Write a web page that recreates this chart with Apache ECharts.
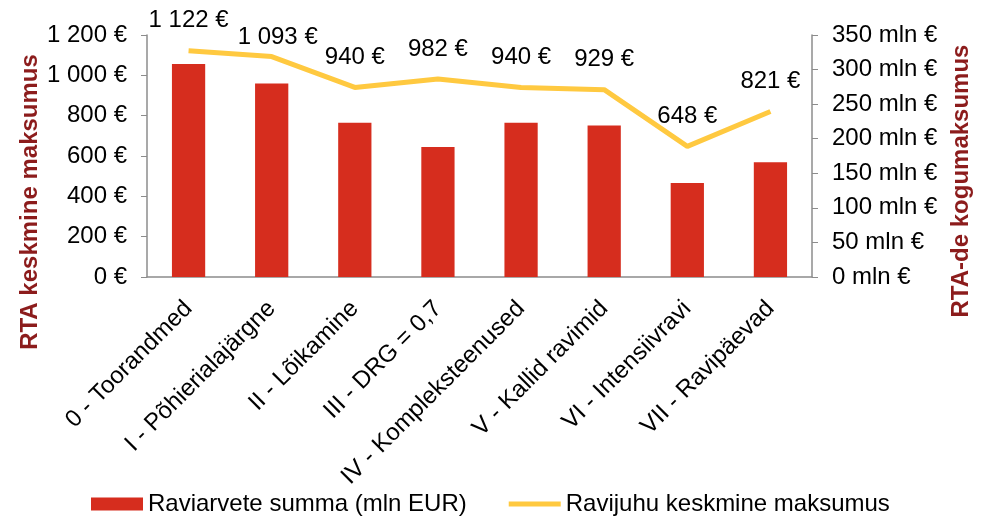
<!DOCTYPE html>
<html>
<head>
<meta charset="utf-8">
<script src="https://cdn.jsdelivr.net/npm/echarts@6/dist/echarts.min.js"></script>
<style>
  html, body { margin: 0; padding: 0; background: #fff; }
  #chart { width: 986px; height: 516px; }
</style>
</head>
<body>
<div id="chart"></div>
<script>
var categories = ['0 - Toorandmed', 'I - Põhierialajärgne', 'II - Lõikamine', 'III - DRG = 0,7',
    'IV - Kompleksteenused', 'V - Kallid ravimid', 'VI - Intensiivravi', 'VII - Ravipäevad'];
// bars, right axis (mln EUR)
var totalCost = [308, 280, 223, 188, 223, 219, 136, 166];
// line, left axis (EUR)
var avgCost = [1122, 1093, 940, 982, 940, 929, 648, 821];

var FONT = 'Liberation Sans, Arial, sans-serif';
var axisGray = '#8c8c8c';
var titleRed = '#8c1c1c';

function spaced(v) {
    return String(v).replace(/\B(?=(\d{3})+(?!\d))/g, ' ');
}

// second label sits a bit lower in the original
var lineData = avgCost.map(function (v, i) {
    if (i === 1) return { value: v, label: { offset: [6, 11] } };
    return v;
});

var chart = echarts.init(document.getElementById('chart'));

var opt = {
    animation: false,
    textStyle: { fontFamily: FONT },
    grid: {
        left: 147,
        right: 174,
        top: 35,
        bottom: 239
    },
    legend: {
        bottom: -5,
        left: 86,
        itemWidth: 52,
        itemHeight: 13,
        itemGap: 42,
        textStyle: { fontSize: 24, color: '#000', fontFamily: FONT },
        data: [
            { name: 'Raviarvete summa (mln EUR)', icon: 'rect' },
            { name: 'Ravijuhu keskmine maksumus', icon: 'path://M0,0 H52 V5 H0 Z' }
        ]
    },
    xAxis: {
        type: 'category',
        data: categories,
        axisLine: { lineStyle: { color: axisGray, width: 1.5 } },
        axisTick: { length: 6, lineStyle: { color: axisGray } },
        axisLabel: {
            rotate: 45,
            interval: 0,
            fontSize: 24,
            color: '#000',
            margin: 28
        }
    },
    yAxis: [
        {
            type: 'value',
            min: 0,
            max: 1200,
            interval: 200,
            position: 'left',
            splitLine: { show: false },
            axisLine: { show: true, lineStyle: { color: axisGray, width: 1.5 } },
            axisTick: { show: true, length: 6, lineStyle: { color: axisGray } },
            axisLabel: {
                fontSize: 24,
                color: '#000',
                margin: 20,
                formatter: function (v) { return spaced(v) + ' €'; }
            }
        },
        {
            type: 'value',
            min: 0,
            max: 350,
            interval: 50,
            position: 'right',
            splitLine: { show: false },
            axisLine: { show: true, lineStyle: { color: axisGray, width: 1.5 } },
            axisTick: { show: true, length: 6, lineStyle: { color: axisGray } },
            axisLabel: {
                fontSize: 24,
                color: '#000',
                margin: 20,
                formatter: function (v) { return v + ' mln €'; }
            }
        }
    ],
    // axis titles drawn as rotated text
    graphic: [
        {
            type: 'text',
            x: 18,
            y: 202,
            rotation: Math.PI / 2,
            style: {
                text: 'RTA keskmine maksumus',
                fill: titleRed,
                font: 'bold 24px ' + FONT,
                align: 'center',
                verticalAlign: 'top'
            }
        },
        {
            type: 'text',
            x: 949,
            y: 181,
            rotation: Math.PI / 2,
            style: {
                text: 'RTA-de kogumaksumus',
                fill: titleRed,
                font: 'bold 24px ' + FONT,
                align: 'center',
                verticalAlign: 'top'
            }
        }
    ],
    series: [
        {
            name: 'Raviarvete summa (mln EUR)',
            type: 'bar',
            yAxisIndex: 1,
            barWidth: '40%',
            itemStyle: { color: '#d62d1e' },
            data: totalCost
        },
        {
            name: 'Ravijuhu keskmine maksumus',
            type: 'line',
            yAxisIndex: 0,
            symbol: 'circle',
            symbolSize: 0.1,
            lineStyle: { color: '#ffc940', width: 5 },
            itemStyle: { color: '#ffc940' },
            label: {
                show: true,
                position: 'top',
                distance: 18,
                fontSize: 24,
                color: '#000',
                formatter: function (p) { return spaced(p.value) + ' €'; }
            },
            data: lineData
        }
    ]
};

chart.setOption(opt);

window.addEventListener('resize', function () {
    chart.resize();
});
</script>
</body>
</html>
